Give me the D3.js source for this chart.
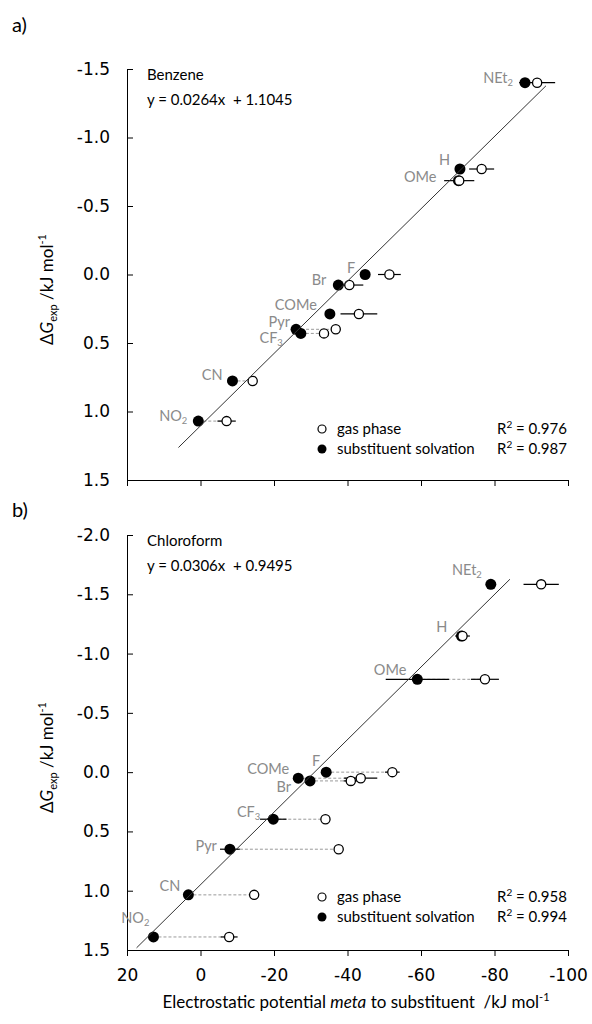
<!DOCTYPE html>
<html>
<head>
<meta charset="utf-8">
<script src="https://cdn.jsdelivr.net/npm/d3@7/dist/d3.min.js"></script>
<style>
  body { margin: 0; background: #fff; }
  svg text { font-family: Lato, "Open Sans", sans-serif; }
  .axis text { font-family: "DejaVu Sans", Verdana, sans-serif; font-size: 17px; fill: #000; }
  .axis path, .axis line { stroke: #000; stroke-width: 1; }
</style>
</head>
<body>
<div id="chart-area"></div>
<script>
// substituents, same order in every array below
const substituents = ["NEt2", "H", "OMe", "F", "Br", "COMe", "Pyr", "CF3", "CN", "NO2"];

const xTicks  = [20, 0, -20, -40, -60, -80, -100];
const yTicksA = [-1.5, -1.0, -0.5, 0.0, 0.5, 1.0, 1.5];
const yTicksB = [-2.0, -1.5, -1.0, -0.5, 0.0, 0.5, 1.0, 1.5];

// a) benzene
const dGA      = [-1.40, -0.77, -0.685, 0.00, 0.077, 0.288, 0.40, 0.43, 0.777, 1.07];
const gasA     = [-91.6, -76.5, -70.4, -51.4, -40.5, -43.1, -36.8, -33.6, -14.2, -7.1];
const solvA    = [-88.3, -70.6, -70.2, -44.8, -37.5, -35.2, -26.0, -27.3, -8.7, 0.6];
const gasErrA  = [4.9, 3.4, 4.1, 3.1, 3.8, 5.0, 0, 0, 0, 2.5];
const solvErrA = [0, 0, 0, 0, 0, 0, 0, 0, 0, 0];
const linkA    = [false, false, false, false, false, false, true, true, true, true];
const fitA     = { slope: 0.0264, icpt: 1.1045, from: 6, to: -94 };
const r2A      = ["0.976", "0.987"];

// b) chloroform
const dGB      = [-1.584, -1.148, -0.783, 0.00, 0.074, 0.051, 0.65, 0.397, 1.035, 1.39];
const gasB     = [-92.7, -71.3, -77.4, -52.2, -40.9, -43.6, -37.6, -34.0, -14.6, -7.8];
const solvB    = [-79.0, -71.0, -59.0, -34.2, -29.8, -26.6, -8.0, -19.8, 3.3, 12.8];
const gasErrB  = [4.8, 2.0, 3.8, 2.0, 2.0, 4.5, 0, 0, 0, 2.3];
const solvErrB = [0, 0, 8.6, 0, 0, 0, 2.7, 3.6, 0, 0];
const linkB    = [false, true, true, true, true, true, true, true, true, true];
const fitB     = { slope: 0.0306, icpt: 0.9495, from: 17.4, to: -84.2 };
const r2B      = ["0.958", "0.994"];

// label placement (px, relative to the filled marker)
const labelOffA = [[-12, 0], [-10, -4], [-22, 1], [-10, -2], [-12, 0], [-13, -4], [-6, -2], [-18, 10], [-10, -1], [-11, 0]];
const labelOffB = [[-9, -9], [-14, -4], [-11, -4], [-6, -6], [-19, 11], [-9, -4], [-13, 2], [-13, -2], [-8, -4], [-4, -14]];

const totalWidth = 592, totalHeight = 1024;
const left = 127, right = 568;

const svg = d3.select("#chart-area")
  .append("svg")
    .attr("width", totalWidth)
    .attr("height", totalHeight);

const xScale = d3.scaleLinear().domain([20, -100]).range([left, right]);

function addLabel(sel, name, size) {
  const m = name.match(/^(.*?)(\d)$/);
  sel.append("tspan").text(m ? m[1] : name);
  if (m) {
    sel.append("tspan")
      .attr("font-size", size * 0.65 + "px")
      .attr("dy", 3)
      .text(m[2]);
  }
}

function drawPanel(p) {
  const yScale = d3.scaleLinear().domain(p.yDomain).range(p.yRange);
  const bottom = p.yRange[1];
  const g = svg.append("g");

  const rows = substituents.map((s, i) => ({
    name: s, dG: p.dG[i], gas: p.gas[i], solv: p.solv[i],
    gasErr: p.gasErr[i], solvErr: p.solvErr[i], link: p.link[i], off: p.labelOff[i]
  }));

  // axes
  const xAxis = g.append("g")
    .attr("class", "axis")
    .attr("transform", "translate(0," + bottom + ")")
    .call(d3.axisBottom(xScale).tickValues(xTicks).tickSize(6).tickSizeOuter(0).tickPadding(13)
      .tickFormat(d => p.showX ? String(d) : ""));
  xAxis.attr("font-size", null).attr("font-family", null);

  const yAxis = g.append("g")
    .attr("class", "axis")
    .attr("transform", "translate(" + left + ",0)")
    .call(d3.axisLeft(yScale).tickValues(p.yTicks).tickSize(-6).tickSizeOuter(0).tickPadding(17)
      .tickFormat(d => d.toFixed(1)));
  yAxis.attr("font-size", null).attr("font-family", null);

  // dashed connectors gas -> solvated
  g.selectAll(".conn").data(rows.filter(d => d.link)).enter().append("line")
    .attr("x1", d => xScale(d.solv)).attr("x2", d => xScale(d.gas))
    .attr("y1", d => yScale(d.dG)).attr("y2", d => yScale(d.dG))
    .attr("stroke", "#9a9a9a").attr("stroke-width", 1).attr("stroke-dasharray", "3,2");

  // error bars
  const bars = [];
  rows.forEach(d => {
    if (d.gasErr) bars.push({ v: d.gas, e: d.gasErr, dG: d.dG });
    if (d.solvErr) bars.push({ v: d.solv, e: d.solvErr, dG: d.dG });
  });
  g.selectAll(".err").data(bars).enter().append("line")
    .attr("x1", d => xScale(d.v - d.e)).attr("x2", d => xScale(d.v + d.e))
    .attr("y1", d => yScale(d.dG)).attr("y2", d => yScale(d.dG))
    .attr("stroke", "#000").attr("stroke-width", 1.2);

  // markers
  g.selectAll(".solv").data(rows).enter().append("circle")
    .attr("cx", d => xScale(d.solv)).attr("cy", d => yScale(d.dG))
    .attr("r", 5.5).attr("fill", "#000");
  g.selectAll(".gas").data(rows).enter().append("circle")
    .attr("cx", d => xScale(d.gas)).attr("cy", d => yScale(d.dG))
    .attr("r", 4.6).attr("fill", "#fff").attr("stroke", "#000").attr("stroke-width", 1.3);

  // trendline
  const f = p.fit;
  g.append("line")
    .attr("x1", xScale(f.from)).attr("y1", yScale(f.slope * f.from + f.icpt))
    .attr("x2", xScale(f.to)).attr("y2", yScale(f.slope * f.to + f.icpt))
    .attr("stroke", "#333").attr("stroke-width", 1);

  // substituent labels
  g.selectAll(".lab").data(rows).enter().append("text")
    .attr("x", d => xScale(d.solv) + d.off[0])
    .attr("y", d => yScale(d.dG) + d.off[1])
    .attr("text-anchor", "end")
    .attr("font-size", "14.5px")
    .attr("fill", "#8a8a8a")
    .each(function(d) { addLabel(d3.select(this), d.name, 14.5); });

  // solvent + equation
  const top = p.yRange[0];
  g.append("text").attr("x", 147).attr("y", top + 11).attr("font-size", "15px").text(p.solvent);
  g.append("text").attr("x", 147).attr("y", top + 36).attr("font-size", "15px")
    .attr("xml:space", "preserve")
    .text("y = " + f.slope.toFixed(4) + "x  + " + f.icpt.toFixed(4));

  // legend
  const ly = bottom - p.legendUp;
  const legend = g.append("g");
  legend.append("circle").attr("cx", 322).attr("cy", ly).attr("r", 4)
    .attr("fill", "#fff").attr("stroke", "#000").attr("stroke-width", 1.2);
  legend.append("circle").attr("cx", 322).attr("cy", ly + 20).attr("r", 4.5).attr("fill", "#000");
  ["gas phase", "substituent solvation"].forEach((t, i) => {
    legend.append("text").attr("x", 337).attr("y", ly + 5 + i * 20).attr("font-size", "15px").text(t);
    const r = legend.append("text").attr("x", 497).attr("y", ly + 5 + i * 20).attr("font-size", "15px");
    r.append("tspan").text("R");
    r.append("tspan").attr("font-size", "10px").attr("dy", -6).text("2");
    r.append("tspan").attr("dy", 6).text(" = " + p.r2[i]);
  });

  // y title
  const yt = g.append("text")
    .attr("transform", "translate(53," + ((top + bottom) / 2 + 15) + ") rotate(-90)")
    .attr("text-anchor", "middle")
    .attr("font-size", "17px");
  yt.append("tspan").text("\u0394");
  yt.append("tspan").attr("font-style", "italic").text("G");
  yt.append("tspan").attr("font-size", "11px").attr("dy", 4).text("exp");
  yt.append("tspan").attr("dy", -4).text(" /kJ mol");
  yt.append("tspan").attr("font-size", "11px").attr("dy", -7).text("-1");

  // panel letter
  svg.append("text").attr("x", 12).attr("y", p.letterY).attr("font-size", "20px").text(p.letter);
}

drawPanel({
  letter: "a)", letterY: 32, solvent: "Benzene",
  yDomain: [-1.5, 1.5], yRange: [69, 480], yTicks: yTicksA, showX: false,
  dG: dGA, gas: gasA, solv: solvA, gasErr: gasErrA, solvErr: solvErrA, link: linkA,
  fit: fitA, r2: r2A, labelOff: labelOffA, legendUp: 51
});

drawPanel({
  letter: "b)", letterY: 517, solvent: "Chloroform",
  yDomain: [-2.0, 1.5], yRange: [535, 950], yTicks: yTicksB, showX: true,
  dG: dGB, gas: gasB, solv: solvB, gasErr: gasErrB, solvErr: solvErrB, link: linkB,
  fit: fitB, r2: r2B, labelOff: labelOffB, legendUp: 53
});

// x title
const xt = svg.append("text")
  .attr("x", 356).attr("y", 1008)
  .attr("text-anchor", "middle")
  .attr("font-size", "17px");
xt.append("tspan").text("Electrostatic potential ");
xt.append("tspan").attr("font-style", "italic").text("meta");
xt.append("tspan").attr("xml:space", "preserve").text(" to substituent  /kJ mol");
xt.append("tspan").attr("font-size", "11px").attr("dy", -7).text("-1");
</script>
</body>
</html>
